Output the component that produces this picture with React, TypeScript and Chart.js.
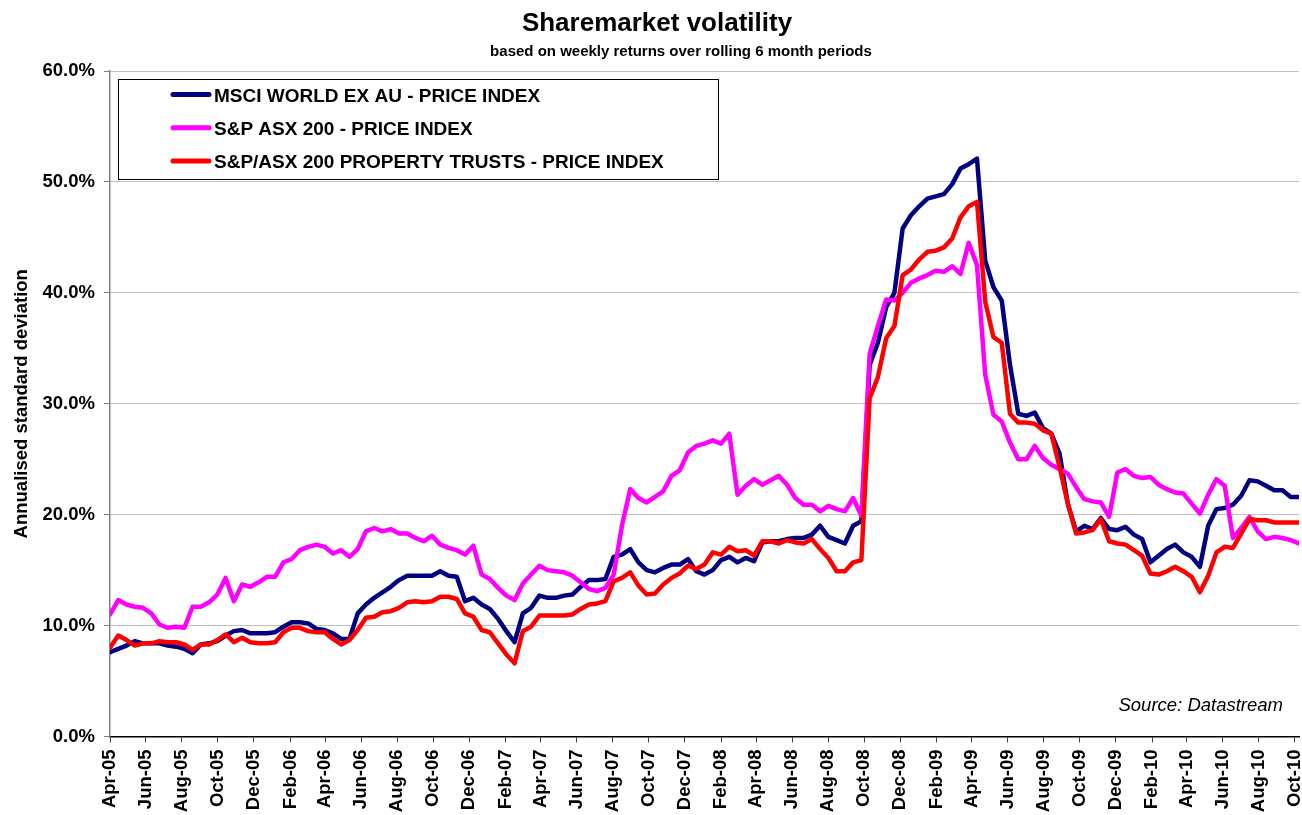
import React, { useEffect, useRef } from 'react';
import { Chart, registerables } from 'chart.js';

Chart.register(...registerables);

const FONT = "'Liberation Sans', Arial, sans-serif";

const TITLE = 'Sharemarket volatility';
const SUBTITLE = 'based on weekly returns over rolling 6 month periods';
const Y_TITLE = 'Annualised standard deviation';
const SOURCE = 'Source: Datastream';

const SERIES_NAMES = [
  'MSCI WORLD EX AU - PRICE INDEX',
  'S&P ASX 200 - PRICE INDEX',
  'S&P/ASX 200 PROPERTY TRUSTS - PRICE INDEX',
];
const SERIES_COLORS = ['#000080', '#FF00FF', '#FF0000'];

// sample spacing (days) starting 1 Apr 2005
const STEP_DAYS = 14;

const X_TICK_LABELS = [
  'Apr-05', 'Jun-05', 'Aug-05', 'Oct-05', 'Dec-05', 'Feb-06', 'Apr-06', 'Jun-06', 'Aug-06',
  'Oct-06', 'Dec-06', 'Feb-07', 'Apr-07', 'Jun-07', 'Aug-07', 'Oct-07', 'Dec-07', 'Feb-08',
  'Apr-08', 'Jun-08', 'Aug-08', 'Oct-08', 'Dec-08', 'Feb-09', 'Apr-09', 'Jun-09', 'Aug-09',
  'Oct-09', 'Dec-09', 'Feb-10', 'Apr-10', 'Jun-10', 'Aug-10', 'Oct-10',
];
const Y_TICK_VALUES = [0, 10, 20, 30, 40, 50, 60];

// annualised standard deviation, %
const msciWorld = [
  7.6, 7.9, 8.2, 8.6, 8.4, 8.4, 8.4, 8.2, 8.1, 7.9,
  7.5, 8.3, 8.4, 8.6, 9.1, 9.5, 9.6, 9.3, 9.3, 9.3,
  9.4, 9.9, 10.3, 10.3, 10.2, 9.7, 9.6, 9.3, 8.8, 8.8,
  11.1, 11.9, 12.5, 13.0, 13.5, 14.1, 14.5, 14.5, 14.5, 14.5,
  14.9, 14.5, 14.4, 12.2, 12.5, 11.9, 11.5, 10.6, 9.5, 8.5,
  11.1, 11.6, 12.7, 12.5, 12.5, 12.7, 12.8, 13.5, 14.1, 14.1,
  14.2, 16.2, 16.4, 16.9, 15.7, 15.0, 14.8, 15.2, 15.5, 15.5,
  16.0, 14.9, 14.6, 15.0, 15.9, 16.2, 15.7, 16.1, 15.8, 17.5,
  17.6, 17.6, 17.8, 17.9, 17.9, 18.2, 19.0, 18.0, 17.7, 17.4,
  19.0, 19.4, 33.5, 35.5, 38.7, 40.0, 45.8, 47.0, 47.8, 48.5,
  48.7, 48.9, 49.8, 51.2, 51.6, 52.1, 42.9, 40.5, 39.3, 33.5,
  29.1, 28.9, 29.2, 27.8, 27.3, 25.5, 21.0, 18.5, 19.0, 18.7,
  19.7, 18.7, 18.6, 18.9, 18.2, 17.8, 15.7, 16.3, 16.9, 17.3,
  16.6, 16.2, 15.3, 19.0, 20.5, 20.6, 20.9, 21.7, 23.1, 23.0,
  22.6, 22.2, 22.2, 21.6, 21.6,
];

const asx200 = [
  11.0, 12.3, 11.9, 11.7, 11.6, 11.1, 10.1, 9.8, 9.9, 9.8,
  11.7, 11.7, 12.1, 12.8, 14.3, 12.2, 13.7, 13.5, 13.9, 14.4,
  14.4, 15.7, 16.0, 16.8, 17.1, 17.3, 17.1, 16.5, 16.8, 16.2,
  16.9, 18.5, 18.8, 18.5, 18.7, 18.3, 18.3, 17.9, 17.6, 18.1,
  17.3, 17.0, 16.8, 16.4, 17.2, 14.6, 14.2, 13.4, 12.7, 12.3,
  13.8, 14.6, 15.4, 15.0, 14.9, 14.8, 14.5, 13.9, 13.3, 13.1,
  13.4, 14.6, 19.0, 22.3, 21.5, 21.1, 21.6, 22.1, 23.5, 24.0,
  25.6, 26.2, 26.4, 26.7, 26.4, 27.3, 21.8, 22.6, 23.2, 22.7,
  23.1, 23.5, 22.7, 21.5, 20.9, 20.9, 20.3, 20.8, 20.5, 20.3,
  21.5, 19.9, 34.5, 37.0, 39.4, 39.3, 40.0, 40.9, 41.3, 41.6,
  42.0, 41.9, 42.4, 41.7, 44.5, 42.5, 32.6, 29.0, 28.4, 26.5,
  25.0, 25.0, 26.2, 25.1, 24.5, 24.1, 23.7, 22.5, 21.4, 21.2,
  21.1, 19.8, 23.8, 24.1, 23.5, 23.3, 23.4, 22.7, 22.3, 22.0,
  21.9, 21.0, 20.1, 21.8, 23.2, 22.6, 17.9, 18.8, 19.8, 18.5,
  17.8, 18.0, 17.9, 17.7, 17.4,
];

const propertyTrusts = [
  8.0, 9.1, 8.7, 8.2, 8.4, 8.4, 8.6, 8.5, 8.5, 8.3,
  7.8, 8.3, 8.3, 8.7, 9.2, 8.5, 8.9, 8.5, 8.4, 8.4,
  8.5, 9.4, 9.8, 9.8, 9.5, 9.4, 9.4, 8.8, 8.3, 8.7,
  9.6, 10.7, 10.8, 11.2, 11.3, 11.6, 12.1, 12.2, 12.1, 12.2,
  12.6, 12.6, 12.4, 11.1, 10.8, 9.6, 9.4, 8.4, 7.4, 6.6,
  9.5, 9.9, 10.9, 10.9, 10.9, 10.9, 11.0, 11.5, 11.9, 12.0,
  12.2, 14.0, 14.3, 14.8, 13.6, 12.8, 12.9, 13.7, 14.3, 14.7,
  15.4, 15.1, 15.5, 16.6, 16.4, 17.1, 16.7, 16.8, 16.3, 17.6,
  17.6, 17.4, 17.7, 17.5, 17.4, 17.8, 16.9, 16.1, 14.9, 14.9,
  15.7, 15.9, 30.5, 32.4, 35.9, 37.0, 41.6, 42.1, 43.0, 43.7,
  43.8, 44.1, 44.9, 46.8, 47.8, 48.2, 39.2, 36.0, 35.5, 29.1,
  28.3, 28.3, 28.2, 27.6, 27.3, 24.3, 21.0, 18.3, 18.4, 18.6,
  19.6, 17.6, 17.4, 17.3, 16.8, 16.3, 14.7, 14.6, 14.9, 15.3,
  14.9, 14.4, 13.0, 14.5, 16.6, 17.1, 17.0, 18.3, 19.6, 19.5,
  19.5, 19.3, 19.3, 19.3, 19.3,
];

const SERIES_VALUES = [msciWorld, asx200, propertyTrusts];

const MONTHS = ['Jan', 'Feb', 'Mar', 'Apr', 'May', 'Jun', 'Jul', 'Aug', 'Sep', 'Oct', 'Nov', 'Dec'];
const ORIGIN = Date.UTC(2005, 3, 1);
const labelToDay = (label: string) => {
  const [m, y] = label.split('-');
  return (Date.UTC(2000 + Number(y), MONTHS.indexOf(m), 1) - ORIGIN) / 86400000;
};
const X_TICK_DAYS = X_TICK_LABELS.map(labelToDay);
const LAST_DAY = (msciWorld.length - 1) * STEP_DAYS;

const decorPlugin = {
  id: 'decor',
  afterDraw(chart: any) {
    const { ctx, chartArea } = chart;
    const a = chartArea;
    ctx.save();
    ctx.fillStyle = '#000';
    ctx.textBaseline = 'alphabetic';

    // title & subtitle
    ctx.textAlign = 'center';
    ctx.font = `bold 26px ${FONT}`;
    ctx.fillText(TITLE, 657, 30.5);
    ctx.font = `bold 15px ${FONT}`;
    ctx.fillText(SUBTITLE, 681, 56);

    // legend box
    const bx = a.left + 8;
    const by = a.top + 7.5;
    ctx.fillStyle = '#fff';
    ctx.fillRect(bx, by, 600, 100);
    ctx.strokeStyle = '#000';
    ctx.lineWidth = 1;
    ctx.strokeRect(Math.round(bx) + 0.5, Math.round(by) + 0.5, 600, 100);
    ctx.font = `bold 19px ${FONT}`;
    ctx.textAlign = 'left';
    SERIES_NAMES.forEach((name, i) => {
      const base = by + 23.5 + i * 33.2;
      ctx.strokeStyle = SERIES_COLORS[i];
      ctx.lineWidth = 5;
      ctx.lineCap = 'round';
      ctx.beginPath();
      ctx.moveTo(bx + 55, base - 7.5);
      ctx.lineTo(bx + 91, base - 7.5);
      ctx.stroke();
      ctx.fillStyle = '#000';
      ctx.fillText(name, bx + 96, base);
    });

    // source note
    ctx.textAlign = 'right';
    ctx.font = `italic 18.5px ${FONT}`;
    ctx.fillStyle = '#000';
    ctx.fillText(SOURCE, a.right - 16, a.bottom - 25.5);
    ctx.restore();
  },
};

export default function App() {
  const canvasRef = useRef<HTMLCanvasElement | null>(null);

  useEffect(() => {
    const canvas = canvasRef.current;
    if (!canvas) return;
    const datasets = SERIES_NAMES.map((name, s) => ({
      label: name,
      data: SERIES_VALUES[s].map((v, i) => ({ x: i * STEP_DAYS, y: v })),
      borderColor: SERIES_COLORS[s],
      backgroundColor: SERIES_COLORS[s],
      borderWidth: 4.5,
      pointRadius: 0,
      tension: 0,
      borderJoinStyle: 'round' as const,
      borderCapStyle: 'round' as const,
      order: 3 - s,
    }));

    const chart = new Chart(canvas, {
      type: 'line',
      data: { datasets },
      options: {
        responsive: false,
        animation: false,
        devicePixelRatio: 1,
        layout: { padding: { top: 71, right: 3, bottom: 0, left: 0 } },
        plugins: {
          legend: { display: false },
          title: { display: false },
          tooltip: { enabled: false },
        },
        scales: {
          x: {
            type: 'linear',
            min: 0,
            max: LAST_DAY,
            afterBuildTicks: (scale: any) => {
              scale.ticks = X_TICK_DAYS.map((v) => ({ value: v }));
            },
            afterFit: (scale: any) => {
              scale.height = 78.5;
              scale.paddingLeft = 0;
              scale.paddingRight = 0;
            },
            ticks: {
              autoSkip: false,
              minRotation: 90,
              maxRotation: 90,
              padding: 7,
              color: '#000',
              font: { family: FONT, size: 18.5, weight: 'bold' },
              callback: (_v: any, i: number) => X_TICK_LABELS[i],
            },
            grid: {
              drawOnChartArea: false,
              drawTicks: true,
              tickLength: 6,
              tickColor: '#404040',
            },
            border: { color: '#000', width: 1.5 },
          },
          y: {
            min: 0,
            max: 60,
            afterBuildTicks: (scale: any) => {
              scale.ticks = Y_TICK_VALUES.map((v) => ({ value: v }));
            },
            afterFit: (scale: any) => {
              scale.width = 110;
              scale.paddingTop = 0;
              scale.paddingBottom = 0;
            },
            ticks: {
              padding: 9,
              color: '#000',
              font: { family: FONT, size: 18.5, weight: 'bold' },
              callback: (v: any) => Number(v).toFixed(1) + '%',
            },
            grid: {
              color: (c: any) => (c.tick && c.tick.value === 0 ? 'rgba(0,0,0,0)' : '#c0c0c0'),
              lineWidth: 1,
              drawTicks: true,
              tickLength: 6,
              tickColor: '#808080',
            },
            border: { color: '#808080', width: 1.5 },
            title: {
              display: true,
              text: Y_TITLE,
              color: '#000',
              font: { family: FONT, size: 18.5, weight: 'bold' },
              padding: { top: 10.4, bottom: 0 },
            },
          },
        },
      },
      plugins: [decorPlugin],
    });
    return () => chart.destroy();
  }, []);

  return (
    <div style={{ position: 'fixed', left: 0, top: 0, width: 1302, height: 815, background: '#fff' }}>
      <canvas ref={canvasRef} width={1302} height={815} style={{ display: 'block' }} />
    </div>
  );
}
